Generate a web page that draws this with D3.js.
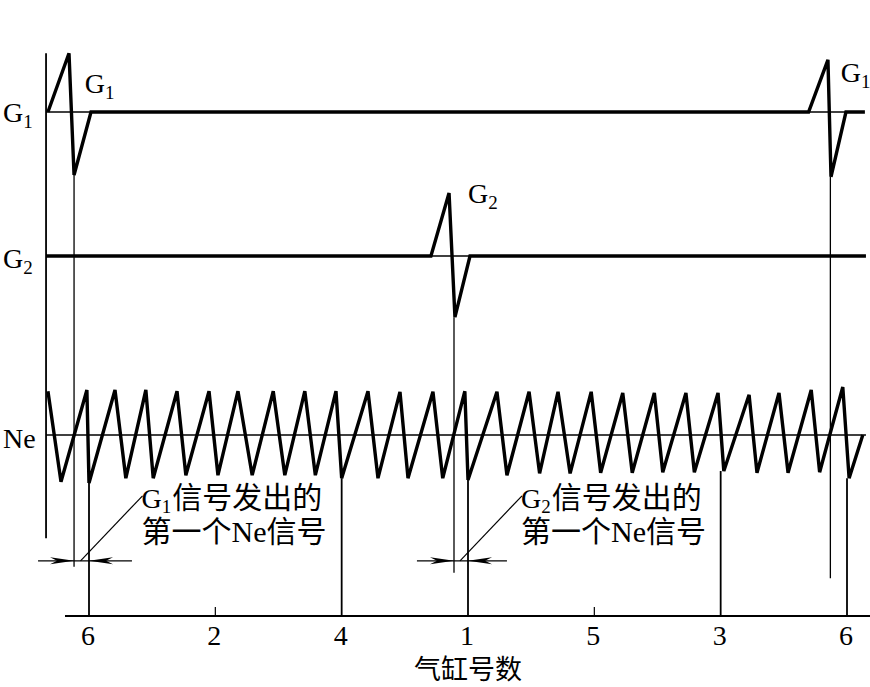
<!DOCTYPE html>
<html>
<head>
<meta charset="utf-8">
<script src="https://cdn.jsdelivr.net/npm/d3@7"></script>
<style>
  body { margin: 0; background: #fff; }
  svg { display: block; }
</style>
</head>
<body>
<div id="target"></div>
<script>
// crank angle in degrees, amplitude in relative units
const cylinderLabels = ["6", "2", "4", "1", "5", "3", "6"]
const cylinderAngles = [0, 120, 240, 360, 480, 600, 720]
// amplitude of the Ne trough where a long tick line starts (null = short tick)
const tickTops = [-0.8, null, -0.72, -0.75, null, -0.6, -0.72]

const g1Signal = [
    [-39, 0], [-19, 0.98], [-14.2, -1.05], [1.9, 0],
    [683.5, 0], [701.9, 0.87], [704.8, -1.08], [719, 0], [737, 0]
]
const g2Signal = [
    [-40.8, 0], [324.8, 0], [342, 1.05], [347.6, -1.02], [361.9, 0], [738, 0]
]
const neSignal = [
    [-39, 0.73], [-26.6, -0.78], [-2, 0.75], [0, -0.8],
    [24.7, 0.75], [35, -0.72], [54, 0.75], [61, -0.72],
    [83.6, 0.73], [92, -0.67], [114, 0.73], [122.5, -0.67],
    [141.5, 0.73], [155, -0.67], [175, 0.73], [186, -0.67],
    [205, 0.73], [215, -0.67], [234.6, 0.73], [240, -0.72],
    [265, 0.73], [274.5, -0.72], [295.4, 0.72], [303, -0.72],
    [326.7, 0.72], [336, -0.72], [357, 0.73], [360, -0.75],
    [387.5, 0.72], [397, -0.67], [418, 0.72], [428, -0.64],
    [445.5, 0.72], [457, -0.64], [477, 0.72], [486, -0.63],
    [507, 0.7], [516, -0.63], [537, 0.7], [545, -0.62],
    [567, 0.7], [575, -0.62], [597.5, 0.7], [603, -0.6],
    [627, 0.67], [634.5, -0.63], [655.4, 0.7], [664, -0.63],
    [686, 0.75], [694, -0.62], [716, 0.8], [722, -0.72], [735, 0]
]

// thin reference lines [track, from, to]
const baseRefs = [["G1", -40.8, 1.9], ["G1", 683.5, 719], ["G2", 324.8, 361.9], ["Ne", -40.8, 738]]
// thin lines dropped from the G troughs [angle, track, amp, bottom amp above axis]
const gMarkers = [[-14.2, "G1", -1.05, 0.82], [346.7, "G2", -1.02, 0.72], [704.2, "G1", -1.08, 0.63]]
// dimension marks [G trough angle, tick angle, line from, line to]
const gapMarks = [[-14.2, 0, -48.4, 40.8], [346.7, 360, 311.5, 397]]
const gapNotes = [["1", "信号发出的", "第一个Ne信号"], ["2", "信号发出的", "第一个Ne信号"]]

const width = 870
const height = 687
const serif = "'Liberation Serif', 'Times New Roman', 'Noto Sans CJK SC', serif"

const svg = d3.select("#target").append("svg")
    .attr("width", width)
    .attr("height", height)

//Scales
const x = d3.scaleLinear().domain([0, 720]).range([89, 847])
const track = d3.scaleOrdinal().domain(["G1", "G2", "Ne", "axis"]).range([112, 256, 435, 616])
const amp = d3.scaleLinear().domain([-1, 1]).range([60, -60])
const yOf = (t, a) => track(t) + amp(a)

const line = t => d3.line().x(d => x(d[0])).y(d => yOf(t, d[1]))

//Reference lines
svg.append("g")
    .selectAll("line")
    .data(baseRefs)
    .join("line")
    .attr("x1", d => x(d[1]))
    .attr("x2", d => x(d[2]))
    .attr("y1", d => yOf(d[0], 0))
    .attr("y2", d => yOf(d[0], 0))
    .attr("stroke", "black")
    .attr("stroke-width", 1.3)

//Left frame line
svg.append("line")
    .attr("x1", x(-40.8)).attr("x2", x(-40.8))
    .attr("y1", yOf("G1", 0.98)).attr("y2", yOf("Ne", -1.72))
    .attr("stroke", "black")
    .attr("stroke-width", 1.8)

//Signals
const signals = [["G1", g1Signal], ["G2", g2Signal], ["Ne", neSignal]]
svg.append("g")
    .selectAll("path")
    .data(signals)
    .join("path")
    .attr("d", d => line(d[0])(d[1]))
    .attr("fill", "none")
    .attr("stroke", "black")
    .attr("stroke-width", 3.4)
    .attr("stroke-linejoin", "miter")
    .attr("stroke-miterlimit", 3)

//Trough markers
svg.append("g")
    .selectAll("line")
    .data(gMarkers)
    .join("line")
    .attr("x1", d => x(d[0])).attr("x2", d => x(d[0]))
    .attr("y1", d => yOf(d[1], d[2]))
    .attr("y2", d => yOf("axis", d[3]))
    .attr("stroke", "black")
    .attr("stroke-width", 1.3)

//Axis
svg.append("line")
    .attr("x1", x(-22.8)).attr("x2", x(742))
    .attr("y1", track("axis")).attr("y2", track("axis"))
    .attr("stroke", "black")
    .attr("stroke-width", 1.8)

svg.append("g")
    .selectAll("line")
    .data(cylinderAngles)
    .join("line")
    .attr("x1", d => x(d)).attr("x2", d => x(d))
    .attr("y1", (d, i) => tickTops[i] === null ? track("axis") - 9 : yOf("Ne", tickTops[i]))
    .attr("y2", track("axis"))
    .attr("stroke", "black")
    .attr("stroke-width", (d, i) => tickTops[i] === null ? 1.2 : 1.8)

svg.append("g")
    .selectAll("text")
    .data(cylinderLabels)
    .join("text")
    .attr("x", (d, i) => x(cylinderAngles[i]) - 1)
    .attr("y", track("axis") + 29)
    .attr("text-anchor", "middle")
    .attr("font-family", serif)
    .attr("font-size", 28)
    .text(d => d)

svg.append("text")
    .attr("x", x(360))
    .attr("y", 679)
    .attr("text-anchor", "middle")
    .attr("font-family", serif)
    .attr("font-size", 27)
    .text("气缸号数")

//Dimension marks
const dimY = yOf("axis", 0.92)
const arrowHead = (tip, dir) => {
    const b = tip - dir * 24, m = tip - dir * 17
    return `M${tip},${dimY}L${b},${dimY - 3.5}L${m},${dimY}L${b},${dimY + 3.5}Z`
}
gapMarks.forEach(([gA, tA, from, to], i) => {
    const g = svg.append("g")
    g.append("line")
        .attr("x1", x(from)).attr("x2", x(to))
        .attr("y1", dimY).attr("y2", dimY)
        .attr("stroke", "black")
        .attr("stroke-width", 1.2)
    g.append("path").attr("d", arrowHead(x(gA), 1)).attr("fill", "black")
    g.append("path").attr("d", arrowHead(x(tA), -1)).attr("fill", "black")

    //Leader
    const lx = (x(gA) + x(tA)) / 2 - 1
    g.append("line")
        .attr("x1", lx).attr("y1", dimY)
        .attr("x2", lx + 62).attr("y2", dimY - 65)
        .attr("stroke", "black")
        .attr("stroke-width", 1.2)

    const note = gapNotes[i]
    const t1 = g.append("text")
        .attr("x", lx + 61)
        .attr("y", dimY - 53)
        .attr("font-family", serif)
        .attr("font-size", 30)
    t1.append("tspan").attr("font-size", 28).text("G")
    t1.append("tspan").attr("font-size", 19).attr("dy", 5).text(note[0])
    t1.append("tspan").attr("dy", -5).attr("dx", 1).text(note[1])

    g.append("text")
        .attr("x", lx + 61)
        .attr("y", dimY - 19)
        .attr("font-family", serif)
        .attr("font-size", 30)
        .text(note[2])
})

//Track labels
const labels = [
    ["G", "1", 3, track("G1") + 10],
    ["G", "2", 3, track("G2") + 12],
    ["Ne", "", 3, track("Ne") + 13],
    ["G", "1", x(-4), track("G1") - 19],
    ["G", "2", x(360), track("G2") - 53],
    ["G", "1", x(714), track("G1") - 30]
]
labels.forEach(([main, sub, lx, ly]) => {
    const t = svg.append("text")
        .attr("x", lx)
        .attr("y", ly)
        .attr("font-family", serif)
        .attr("font-size", 28)
    t.append("tspan").text(main)
    if (sub) t.append("tspan").attr("font-size", 19).attr("dy", 6).text(sub)
})
</script>
</body>
</html>
